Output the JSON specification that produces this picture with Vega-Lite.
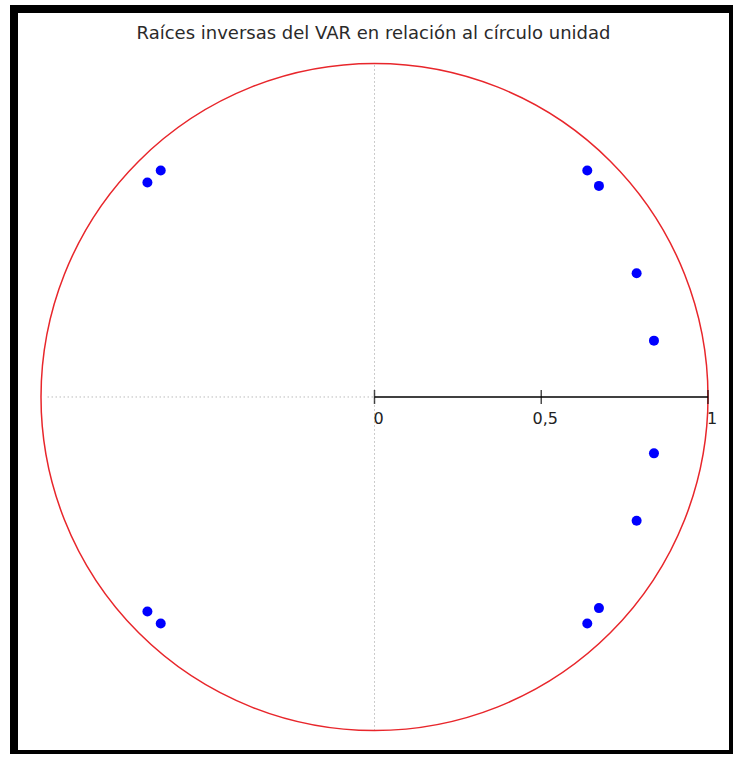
{
  "$schema": "https://vega.github.io/schema/vega-lite/v6.json",
  "autosize": "none",
  "padding": {"left": 14, "top": 9, "right": 0, "bottom": 0},
  "width": 719,
  "height": 745,
  "background": "white",
  "config": {"view": {"stroke": "black", "strokeWidth": 8}},
  "title": {"text": "Raíces inversas del VAR en relación al círculo unidad", "font": "DejaVu Sans", "fontSize": 18, "fontWeight": "normal", "color": "#2a2a2a", "anchor": "middle", "offset": -34},
  "datasets": {
    "roots": [
      {"re": -0.641, "im": 0.679},
      {"re": -0.681, "im": 0.643},
      {"re": -0.681, "im": -0.643},
      {"re": -0.641, "im": -0.679},
      {"re": 0.638, "im": 0.679},
      {"re": 0.673, "im": 0.633},
      {"re": 0.786, "im": 0.371},
      {"re": 0.838, "im": 0.169},
      {"re": 0.838, "im": -0.169},
      {"re": 0.786, "im": -0.371},
      {"re": 0.673, "im": -0.633},
      {"re": 0.638, "im": -0.679}
    ],
    "guides": [
      {"x": 0, "y": -1, "x2": 0, "y2": 1},
      {"x": -0.98, "y": 0, "x2": 0, "y2": 0}
    ],
    "center": [{"x": 0, "y": 0}],
    "axisline": [{"x": 0, "x2": 1, "y": 0}],
    "ticks": [
      {"v": 0, "label": "0"},
      {"v": 0.5, "label": "0,5"},
      {"v": 1, "label": "1"}
    ]
  },
  "layer": [
    {
      "data": {"name": "guides"},
      "mark": {"type": "rule", "color": "#999999", "strokeWidth": 1, "strokeDash": [1, 3]},
      "encoding": {
        "x": {"field": "x", "type": "quantitative", "scale": {"domain": [-1.081, 1.075], "nice": false, "zero": false}, "axis": null},
        "y": {"field": "y", "type": "quantitative", "scale": {"domain": [-1.0705, 1.1634], "nice": false, "zero": false}, "axis": null},
        "x2": {"field": "x2"},
        "y2": {"field": "y2"}
      }
    },
    {
      "data": {"name": "center"},
      "mark": {"type": "point", "shape": "circle", "filled": false, "size": 444889, "stroke": "#e8262b", "strokeWidth": 1.5, "opacity": 1},
      "encoding": {
        "x": {"field": "x", "type": "quantitative"},
        "y": {"field": "y", "type": "quantitative"}
      }
    },
    {
      "data": {"name": "axisline"},
      "mark": {"type": "rule", "color": "black", "strokeWidth": 1.5},
      "encoding": {
        "x": {"field": "x", "type": "quantitative"},
        "x2": {"field": "x2"},
        "y": {"field": "y", "type": "quantitative"}
      }
    },
    {
      "data": {"name": "ticks"},
      "mark": {"type": "tick", "orient": "vertical", "color": "black", "size": 14, "thickness": 1.5},
      "encoding": {
        "x": {"field": "v", "type": "quantitative"},
        "y": {"datum": 0, "type": "quantitative"}
      }
    },
    {
      "data": {"name": "ticks"},
      "mark": {"type": "text", "font": "DejaVu Sans", "fontSize": 16, "color": "#222222", "align": "center", "baseline": "middle", "dx": 4, "dy": 22},
      "encoding": {
        "x": {"field": "v", "type": "quantitative"},
        "y": {"datum": 0, "type": "quantitative"},
        "text": {"field": "label"}
      }
    },
    {
      "data": {"name": "roots"},
      "mark": {"type": "point", "shape": "circle", "filled": true, "size": 100, "color": "#0000ff", "opacity": 1},
      "encoding": {
        "x": {"field": "re", "type": "quantitative"},
        "y": {"field": "im", "type": "quantitative"}
      }
    }
  ]
}
